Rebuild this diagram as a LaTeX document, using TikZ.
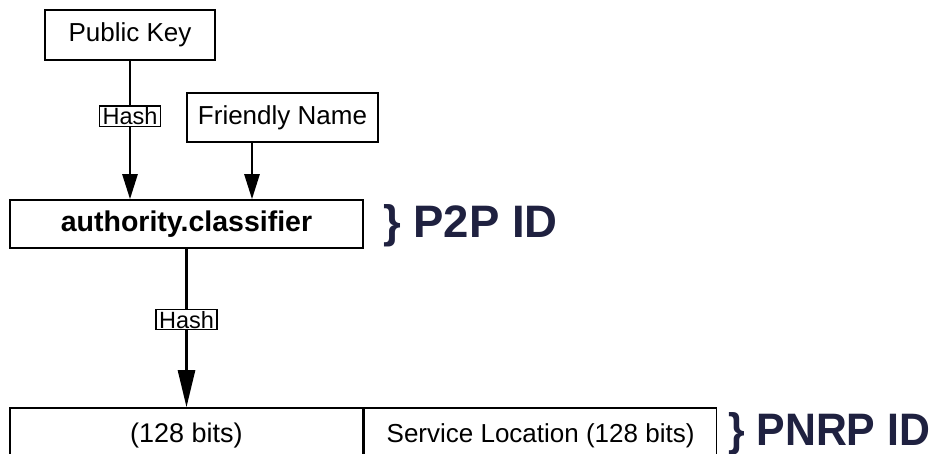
\documentclass[tikz,border=0pt]{standalone}
\usepackage{fontspec}
\setmainfont{Liberation Sans}
\usetikzlibrary{arrows.meta}
\definecolor{idnavy}{HTML}{1F2140}
\tikzset{
  box/.style={draw=black, line width=1.6pt, fill=white, inner sep=0pt, font=\fontsize{26}{30}\selectfont},
  hashlbl/.style={draw=black, line width=1.3pt, fill=white, inner xsep=3pt, inner ysep=1.5pt, font=\fontsize{23.5}{26}\selectfont},
  arr/.style={line width=2.6pt, -{Triangle[length=25pt,width=15pt]}},
  arrlong/.style={line width=2.6pt, -{Triangle[length=37pt,width=17pt]}},
  idlabel/.style={anchor=west, inner sep=0pt, text=idnavy, font=\bfseries\fontsize{45.5}{50}\selectfont}
}
\begin{document}
\begin{tikzpicture}[x=1pt,y=-1pt]
\useasboundingbox (0,0) rectangle (937,454);
\clip (0,0) rectangle (937,454);
\node[box, minimum width=170pt, minimum height=50pt] (pk) at (130,35) {Public Key};
\node[box, minimum width=191pt, minimum height=49pt] (fn) at (282.5,117.5) {Friendly Name};
\node[box, minimum width=353pt, minimum height=48pt, font=\bfseries\fontsize{28.5}{32}\selectfont] (ac) at (186.5,224) {authority.classifier};
\node[box, minimum width=353pt, minimum height=56pt, font=\fontsize{27}{30}\selectfont] (bl) at (186.5,436) {(128 bits)};
\node[box, minimum width=352pt, minimum height=56pt, anchor=west] (br) at (bl.east) {Service Location (128 bits)};
\coordinate (fnx) at (252,0);
\draw[arr] (pk.south) -- node[hashlbl, pos=0.4] (h1) {Hash} (pk.south |- ac.north);
\draw[arr] (fn.south -| fnx) -- (ac.north -| fnx);
\draw[arrlong] (ac.south) -- node[hashlbl, pos=0.447] (h2) {Hash} (bl.north);
\node[idlabel] (p2p) at (383,226) {\} P2P ID};
\node[idlabel, xscale=0.94] (pnrp) at (728,434) {\} PNRP ID};
\end{tikzpicture}
\end{document}
